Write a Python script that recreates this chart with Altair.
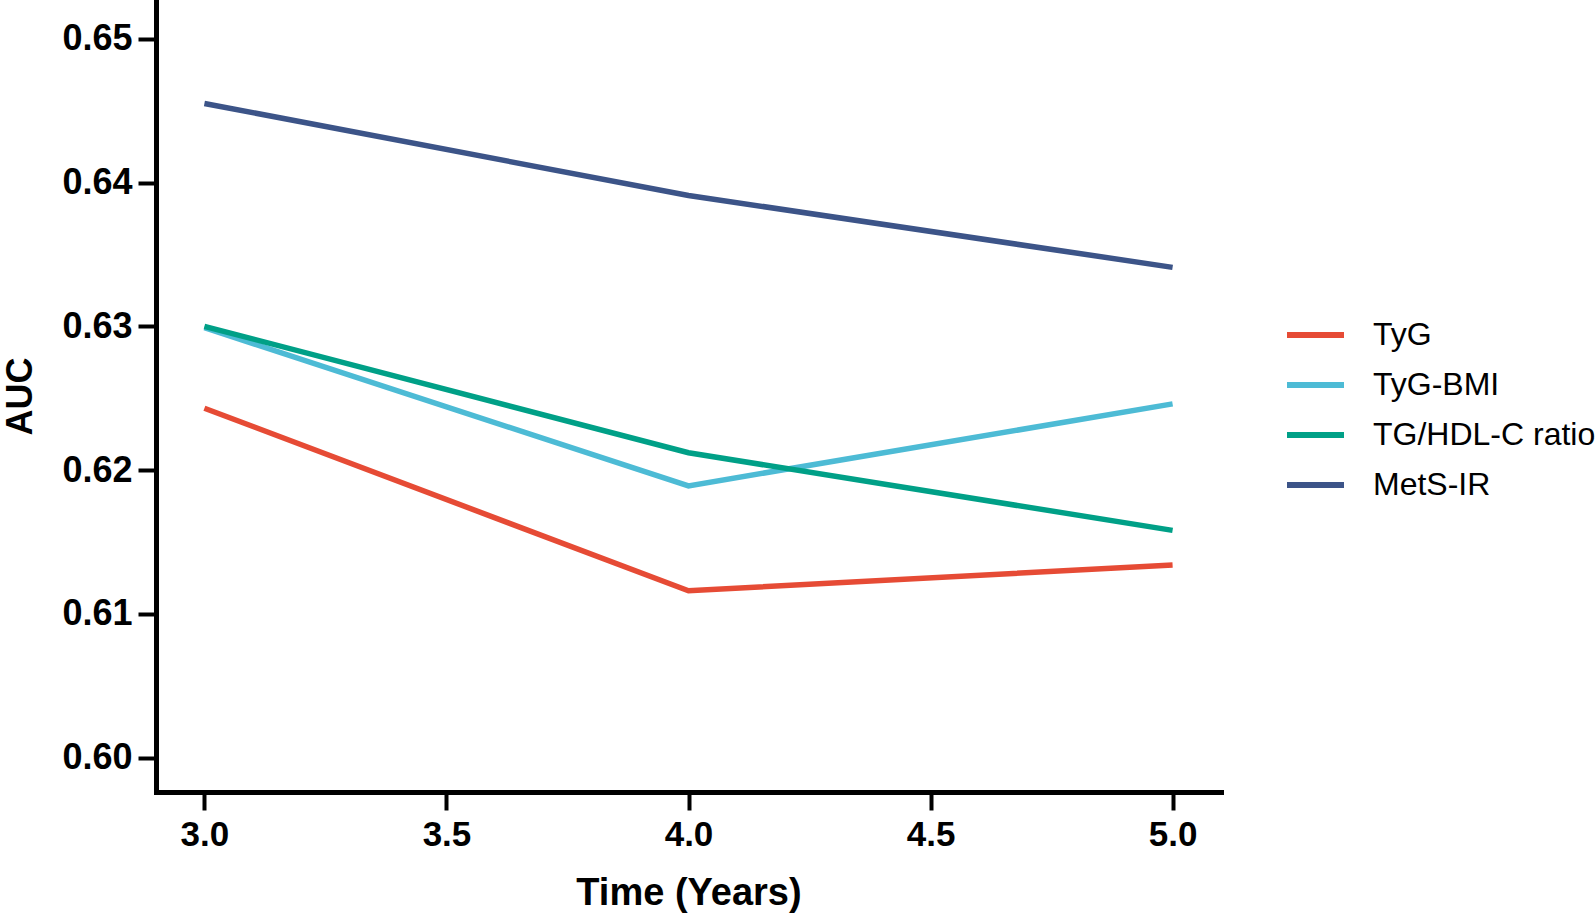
import altair as alt
import pandas as pd

# Follow-up time points (years)
years = [3.0, 4.0, 5.0]

# AUC of each insulin-resistance index at each time point
series_names = ["TyG", "TyG-BMI", "TG/HDL-C ratio", "MetS-IR"]
auc_tyg = [0.6243, 0.6116, 0.6134]
auc_tyg_bmi = [0.6299, 0.6189, 0.6246]
auc_tg_hdl = [0.6300, 0.6212, 0.6158]
auc_mets_ir = [0.6455, 0.6391, 0.6341]

series_colors = ["#E64B35", "#4DBBD5", "#00A087", "#3C5488"]

x_ticks = [3.0, 3.5, 4.0, 4.5, 5.0]
y_ticks = [0.60, 0.61, 0.62, 0.63, 0.64, 0.65]

rows = []
for order, (name, values) in enumerate(
    zip(series_names, [auc_tyg, auc_tyg_bmi, auc_tg_hdl, auc_mets_ir])
):
    for t, v in zip(years, values):
        rows.append({"Index": name, "Time": t, "AUC": v, "order": order})
df = pd.DataFrame(rows)

PLOT_W = 1065
PLOT_H = 792
FONT = "Liberation Sans"

chart = (
    alt.Chart(df)
    .mark_line(strokeWidth=5.5, strokeCap="butt", strokeJoin="miter")
    .encode(
        x=alt.X(
            "Time:Q",
            scale=alt.Scale(domain=[2.9, 5.1], nice=False, zero=False),
            axis=alt.Axis(
                values=x_ticks,
                format=".1f",
                title="Time (Years)",
                titleFontSize=38,
                titleFont=FONT,
                titleFontWeight="bold",
                titleColor="black",
                titleBaseline="alphabetic",
                titleY=112,
                labelFontSize=35,
                labelFont=FONT,
                labelFontWeight="bold",
                labelColor="black",
                labelPadding=7,
                tickSize=18,
                tickWidth=4,
                tickColor="black",
                domainColor="black",
                domainWidth=5,
                domainCap="square",
                grid=False,
            ),
        ),
        y=alt.Y(
            "AUC:Q",
            scale=alt.Scale(domain=[0.5976, 0.6527], nice=False, zero=False),
            axis=alt.Axis(
                values=y_ticks,
                format=".2f",
                title="AUC",
                titleFontSize=36,
                titleFont=FONT,
                titleFontWeight="bold",
                titleColor="black",
                titleBaseline="alphabetic",
                titleAngle=270,
                titleX=-125,
                titleY=396,
                labelFontSize=36,
                labelFont=FONT,
                labelFontWeight="bold",
                labelColor="black",
                labelPadding=6,
                tickSize=18,
                tickWidth=4,
                tickColor="black",
                domainColor="black",
                domainWidth=5,
                domainCap="square",
                grid=False,
            ),
        ),
        color=alt.Color(
            "Index:N",
            scale=alt.Scale(domain=series_names, range=series_colors),
            legend=alt.Legend(
                title=None,
                orient="none",
                legendX=1128,
                legendY=320,
                padding=0,
                symbolType="stroke",
                symbolSize=3249,
                symbolStrokeWidth=6,
                clipHeight=30,
                rowPadding=18,
                labelOffset=26,
                labelFontSize=32,
                labelFont=FONT,
                labelColor="black",
                labelLimit=0,
            ),
        ),
        order=alt.Order("order:Q"),
        detail="Index:N",
    )
    .properties(
        width=PLOT_W,
        height=PLOT_H,
        autosize=alt.AutoSizeParams(type="none"),
        padding={"left": 156, "top": 0, "right": 1595 - 156 - PLOT_W, "bottom": 914 - PLOT_H},
        background="white",
    )
    .configure_view(strokeWidth=0)
)

chart.save("out.html", embed_options={"renderer": "svg", "actions": False})
